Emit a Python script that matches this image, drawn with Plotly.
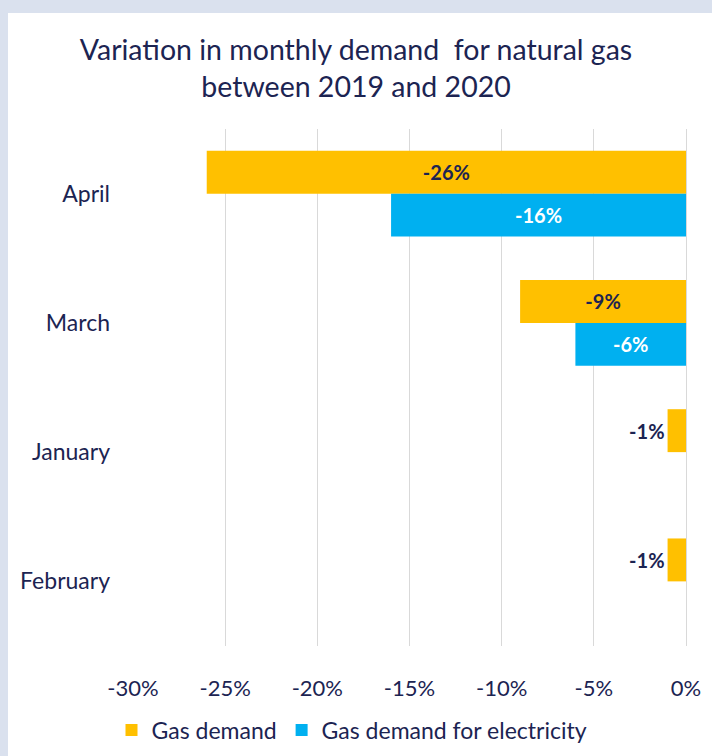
import plotly.graph_objects as go

months = ["April", "March", "January", "February"]
gas_demand = [-0.26, -0.09, -0.01, -0.01]
gas_elec = [-0.16, -0.06, None, None]
gas_labels = ["-26%", "-9%", "-1%", "-1%"]
elec_labels = ["-16%", "-6%", "", ""]
x_ticks = [-0.30, -0.25, -0.20, -0.15, -0.10, -0.05, 0.0]
x_tick_text = ["-30%", "-25%", "-20%", "-15%", "-10%", "-5%", "0%"]

NAVY = "#1c2452"
LAV = "#dae1ee"
FONT = "Lato"
W, H = 712, 756
L, R, T, B = 133, 26, 129, 110
pw, ph = W - L - R, H - T - B

fig = go.Figure()
fig.add_trace(go.Bar(
    y=months, x=gas_demand, orientation="h", name="Gas demand",
    marker=dict(color="#FFC000", line=dict(width=0)),
    text=gas_labels, textposition=["inside", "inside", "outside", "outside"],
    insidetextanchor="middle",
    textfont=dict(color=NAVY, size=20, family=FONT, weight="bold"),
    cliponaxis=False,
))
fig.add_trace(go.Bar(
    y=months, x=gas_elec, orientation="h", name="Gas demand for electricity",
    marker=dict(color="#00B0F0", line=dict(width=0)),
    text=elec_labels, textposition="inside", insidetextanchor="middle",
    textfont=dict(color="white", size=20, family=FONT, weight="bold"),
))

# lavender frame: top band and left band
fig.add_shape(
    type="rect", xref="paper", yref="paper", layer="below",
    x0=-(L + 10) / pw, x1=(W + 10 - L) / pw,
    y0=(H - B - 13) / ph, y1=(H - B + 10) / ph,
    fillcolor=LAV, line=dict(width=0),
)
fig.add_shape(
    type="rect", xref="paper", yref="paper", layer="below",
    x0=-(L + 10) / pw, x1=(8 - L) / pw,
    y0=-(B + 10) / ph, y1=(H - B + 10) / ph,
    fillcolor=LAV, line=dict(width=0),
)

fig.update_layout(
    width=W, height=H,
    margin=dict(l=L, r=R, t=T, b=B, autoexpand=False),
    paper_bgcolor="white", plot_bgcolor="white",
    barmode="group", bargap=0.336, bargroupgap=0,
    font=dict(family=FONT, color=NAVY),
    title=dict(
        text="Variation in monthly demand  for natural gas<br>between 2019 and 2020",
        x=0.5, xanchor="center", xref="container",
        y=1 - 60 / H, yanchor="top", yref="container",
        font=dict(size=28.5, color=NAVY, family=FONT),
    ),
    legend=dict(
        orientation="h", x=(352 - L) / pw, xanchor="center",
        y=-(730 - (H - B)) / ph, yanchor="middle",
        font=dict(size=23, color=NAVY, family=FONT),
        bgcolor="rgba(0,0,0,0)", itemwidth=30, traceorder="normal",
    ),
    showlegend=True,
)
fig.update_xaxes(
    range=[-0.30, 0.0], tickvals=x_ticks, ticktext=x_tick_text,
    showgrid=True, gridcolor="#d9d9d9", gridwidth=1,
    zeroline=True, zerolinecolor="#d9d9d9", zerolinewidth=1,
    showline=False, ticks="", ticklabelstandoff=27,
    tickfont=dict(size=22, color=NAVY, family=FONT),
    fixedrange=True,
)
fig.update_yaxes(
    categoryorder="array", categoryarray=months, autorange="reversed",
    showgrid=False, zeroline=False, showline=False, ticks="",
    ticklabelstandoff=22,
    tickfont=dict(size=23, color=NAVY, family=FONT),
    fixedrange=True,
)

fig.write_html(
    "out.html",
    config={"displayModeBar": False},
    post_script="document.body.style.margin='0';document.body.style.overflow='hidden';",
)
